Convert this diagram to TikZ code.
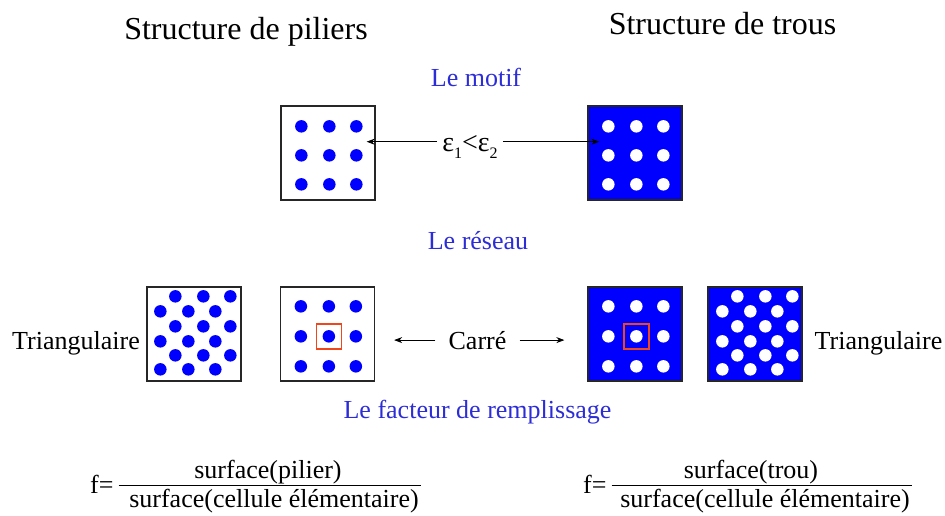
\documentclass[tikz,border=0pt]{standalone}
\usepackage{fontspec}
\setmainfont{Liberation Serif}
\usetikzlibrary{arrows.meta, positioning, calc}
\definecolor{motblue}{RGB}{0,0,255}
\definecolor{labblue}{RGB}{45,45,215}
\definecolor{cellred}{RGB}{240,70,30}
\newcommand{\idx}[1]{\raisebox{-0.22em}{\fontsize{16}{16}\selectfont #1}}

\begin{document}
\begin{tikzpicture}[x=1pt, y=-1pt,
    title/.style={font=\fontsize{32}{38}\selectfont, anchor=base, inner sep=0pt},
    section/.style={font=\fontsize{26}{31}\selectfont, text=labblue, anchor=base, inner sep=0pt},
    txt/.style={font=\fontsize{26}{31}\selectfont, anchor=base, inner sep=0pt},
    cell/.style={rectangle, draw=black!85, line width=1.3pt, minimum size=94pt, inner sep=0pt},
    unit/.style={rectangle, draw=cellred, line width=1.4pt, minimum size=25pt, inner sep=0pt},
    arrow/.style={-{Stealth[length=8pt, width=6pt]}, line width=0.8pt},
    bar/.style={line width=1pt}
    ]
    \useasboundingbox (0,0) rectangle (945,516);

    % titles
    \node[title] (titP) at (246,40) {Structure de piliers};
    \node[title] (titT) at (722.5,35) {Structure de trous};

    % le motif
    \node[section] (motif) at (476,87) {Le motif};
    \node[cell] (motifP) at (328,153) {};
    \node[cell, fill=motblue] (motifT) at (635,153) {};
    \foreach \dx in {21,49,76}
      \foreach \dy in {21,50,79}{
        \fill[motblue] ($(motifP.north west)+(\dx,\dy)$) circle[radius=6.25pt];
        \fill[white] ($(motifT.north west)+(\dx,\dy)$) circle[radius=6.25pt];
      }
    \node[txt, font=\fontsize{28}{32}\selectfont, inner xsep=5pt] (eps) at (470,152)
      {ε\idx{1}<ε\idx{2}};
    \coordinate (epsL) at ([yshift=8pt]eps.mid west);
    \coordinate (epsR) at ([yshift=8pt]eps.mid east);
    \draw[arrow] (epsL) -- ([xshift=-9pt]motifP.east |- epsL);
    \draw[arrow] (epsR) -- ([xshift=12pt]motifT.west |- epsR);

    % le reseau
    \node[section] (reseau) at (478,249) {Le réseau};
    \node[cell] (resTriP) at (194,334) {};
    \node[cell] (resCarP) at (327.5,334) {};
    \node[cell, fill=motblue] (resCarT) at (635,334) {};
    \node[cell, fill=motblue] (resTriT) at (755,334) {};
    \foreach \dx in {21,49,76}
      \foreach \dy in {20,50,80}{
        \fill[motblue] ($(resCarP.north west)+(\dx,\dy)$) circle[radius=6.25pt];
        \fill[white] ($(resCarT.north west)+(\dx,\dy)$) circle[radius=6.25pt];
      }
    \foreach \dy [count=\r] in {10,25,40,55,69,83}{
      \ifodd\r \def\xs{29,57,84}\else \def\xs{14,42,69}\fi
      \foreach \dx in \xs{
        \fill[motblue] ($(resTriP.north west)+(\dx,\dy)$) circle[radius=6.25pt];
        \fill[white] ($(resTriT.north west)+(\dx+1,\dy)$) circle[radius=6.25pt];
      }
    }
    \node[unit] (cellP) at ($(resCarP.north west)+(49,50)$) {};
    \node[unit] (cellT) at ($(resCarT.north west)+(49,50)$) {};
    \node[txt] (triP) at (76,349) {Triangulaire};
    \node[txt] (triT) at (878.5,349) {Triangulaire};
    \node[txt, inner xsep=13pt] (carre) at (477.5,349) {Carré};
    \draw[arrow] (carre.west) -- ([xshift=19pt]resCarP.east |- carre.west);
    \draw[arrow] (carre.east) -- ([xshift=-23pt]resCarT.west |- carre.east);

    % le facteur de remplissage
    \node[section] (remp) at (477.5,418) {Le facteur de remplissage};
    \node[txt, anchor=base west] (fP) at (90,493) {f=};
    \coordinate (barP) at (421,485);
    \draw[bar] ([xshift=5pt]fP.east |- barP) -- (barP);
    \node[txt] (numP) at (268,478) {surface(pilier)};
    \node[txt] (denP) at (274,507) {surface(cellule élémentaire)};
    \node[txt, anchor=base west] (fT) at (583,493) {f=};
    \coordinate (barT) at (912,485);
    \draw[bar] ([xshift=5pt]fT.east |- barT) -- (barT);
    \node[txt] (numT) at (751,478) {surface(trou)};
    \node[txt] (denT) at (765,507) {surface(cellule élémentaire)};
\end{tikzpicture}
\end{document}
